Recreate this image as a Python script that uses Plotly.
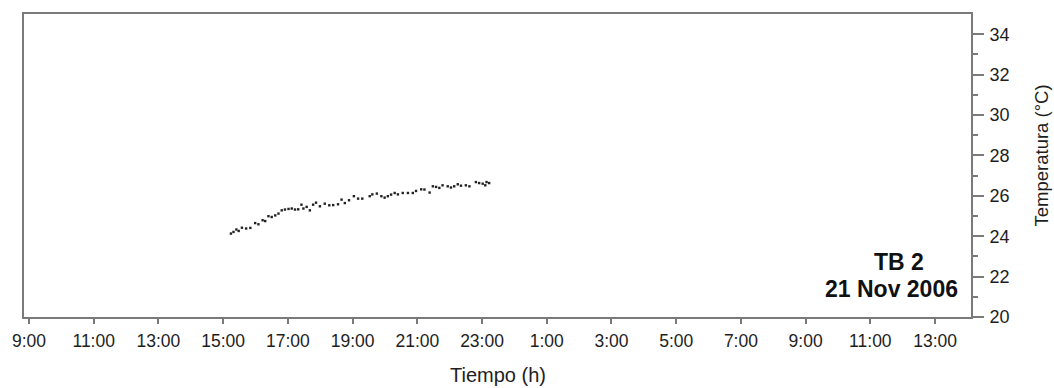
import plotly.graph_objects as go

# Time in hours since 0:00 of 21 Nov 2006 (values > 24 are next day)
hours = [15.24, 15.32, 15.41, 15.48, 15.58, 15.71, 15.84, 15.99, 16.09, 16.22,
         16.30, 16.40, 16.50, 16.61, 16.71, 16.81, 16.91, 17.02, 17.12, 17.22,
         17.32, 17.42, 17.48, 17.58, 17.68, 17.78, 17.87, 17.99, 18.14, 18.28,
         18.40, 18.55, 18.66, 18.76, 18.89, 19.04, 19.17, 19.30, 19.53, 19.61,
         19.75, 19.89, 19.99, 20.09, 20.19, 20.30, 20.40, 20.55, 20.71, 20.86,
         20.96, 21.12, 21.22, 21.38, 21.48, 21.58, 21.68, 21.78, 21.94, 22.04,
         22.14, 22.25, 22.35, 22.50, 22.61, 22.81, 22.91, 23.02, 23.10, 23.14,
         23.22]
temps = [24.13, 24.21, 24.33, 24.26, 24.42, 24.38, 24.41, 24.65, 24.59, 24.79,
         24.75, 24.99, 24.95, 25.03, 25.12, 25.28, 25.32, 25.35, 25.37, 25.32,
         25.33, 25.56, 25.37, 25.45, 25.28, 25.56, 25.66, 25.48, 25.61, 25.53,
         25.54, 25.58, 25.81, 25.64, 25.78, 25.98, 25.86, 25.86, 25.98, 26.07,
         26.11, 25.98, 25.91, 25.98, 26.06, 26.14, 26.07, 26.14, 26.14, 26.14,
         26.24, 26.32, 26.31, 26.16, 26.47, 26.44, 26.39, 26.52, 26.47, 26.41,
         26.47, 26.57, 26.50, 26.52, 26.47, 26.68, 26.63, 26.60, 26.52, 26.68,
         26.63]

x_tickvals = list(range(9, 38, 2))
x_ticktext = ["9:00", "11:00", "13:00", "15:00", "17:00", "19:00", "21:00", "23:00",
              "1:00", "3:00", "5:00", "7:00", "9:00", "11:00", "13:00"]
y_tickvals = [20, 22, 24, 26, 28, 30, 32, 34]
y_minorvals = [21, 23, 25, 27, 29, 31, 33]

FONT = "Liberation Sans, Arial, sans-serif"
AX = "#7a7a7a"
TXT = "#1e1e1e"

fig = go.Figure()
fig.add_trace(go.Scatter(
    x=hours, y=temps, mode="markers",
    marker=dict(symbol="square", size=2.4, color="#222222", line=dict(width=0)),
    showlegend=False, hoverinfo="skip"))

fig.update_layout(
    width=1054, height=388,
    margin=dict(l=20, r=83, t=13, b=71),
    paper_bgcolor="white", plot_bgcolor="white",
    font=dict(family=FONT, color=TXT, size=17),
    xaxis=dict(range=[8.846, 38.11], tickvals=x_tickvals, ticktext=x_ticktext,
               showgrid=False, zeroline=False, showline=True, linecolor=AX,
               linewidth=2, mirror=True, ticks="outside", ticklen=5,
               tickcolor=AX, tickwidth=1.5, ticklabelstandoff=2,
               tickfont=dict(size=17.5, color=TXT)),
    yaxis=dict(range=[20, 35], side="right", tickvals=y_tickvals,
               showgrid=False, zeroline=False, showline=True, linecolor=AX,
               linewidth=2, mirror=True, ticks="outside", ticklen=11,
               tickcolor=AX, tickwidth=1.5, ticklabelstandoff=2,
               tickfont=dict(size=18, color=TXT),
               minor=dict(tickvals=y_minorvals, ticks="outside", ticklen=5,
                          tickcolor=AX, tickwidth=1.5, showgrid=False)),
    annotations=[
        dict(text="Tiempo (h)", xref="paper", yref="paper", x=(496 - 20) / 951, y=0,
             yanchor="middle", yshift=-58, showarrow=False,
             font=dict(size=20, color=TXT)),
        dict(text="Temperatura (°C)", xref="paper", yref="paper", x=1.0746,
             y=0.532, textangle=-90, xanchor="center", yanchor="middle",
             showarrow=False, font=dict(size=18.5, color=TXT)),
        dict(text="<b>TB 2</b>", xref="paper", yref="paper",
             x=(899 - 20) / 951, y=(316.7 - 262) / 303.7,
             xanchor="center", yanchor="middle", showarrow=False,
             font=dict(size=23, color="#111111")),
        dict(text="<b>21 Nov 2006</b>", xref="paper", yref="paper",
             x=(891 - 20) / 951, y=(316.7 - 289) / 303.7,
             xanchor="center", yanchor="middle", showarrow=False,
             font=dict(size=23, color="#111111")),
    ],
)

fig.write_html("out.html")
